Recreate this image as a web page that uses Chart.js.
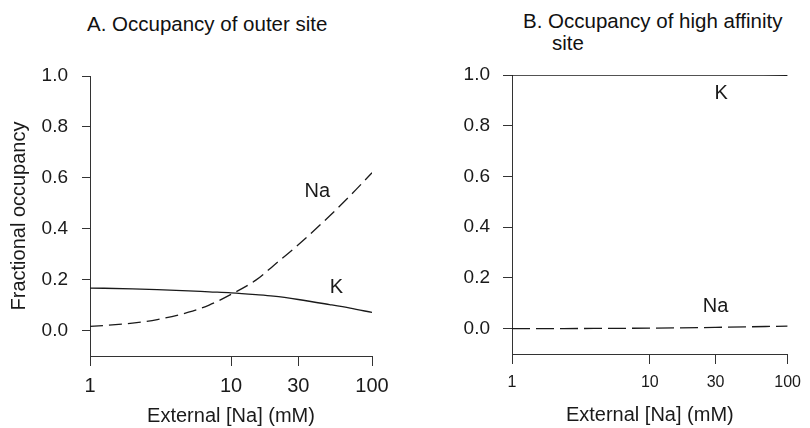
<!DOCTYPE html>
<html>
<head>
<meta charset="utf-8">
<title>Occupancy of outer and high affinity sites</title>
<script src="https://cdn.jsdelivr.net/npm/chart.js@4.4.1/dist/chart.umd.min.js"></script>
<style>
    body {
        margin: 0;
        background: #ffffff;
    }

    #page {
        position: relative;
        width: 810px;
        height: 428px;
        font-family: "Liberation Sans", Arial, sans-serif;
        color: #111111;
    }

    canvas {
        position: absolute;
        top: 0;
    }

    #outer-graph {
        left: 0;
    }

    #high-graph {
        left: 405px;
    }

    .panel-title {
        position: absolute;
        font-size: 20.5px;
        line-height: 22px;
        white-space: nowrap;
    }

    #outer-title {
        left: 87px;
        top: 13px;
    }

    #high-title {
        left: 523px;
        top: 10px;
        padding-left: 29px;
        text-indent: -29px;
    }
</style>
</head>
<body>
<div id="page">
    <div class="panel-title" id="outer-title">A. Occupancy of outer site</div>
    <div class="panel-title" id="high-title">B. Occupancy of high affinity<br>site</div>
    <canvas id="outer-graph" width="405" height="428"></canvas>
    <canvas id="high-graph" width="405" height="428"></canvas>
</div>

<script>
// =========================================================
// DATA
// =========================================================

// panel A - outer site
const outerConcentrations = [1, 2, 3, 5, 7, 10, 15, 20, 30, 50, 70, 100];
const outerNa = [0.016, 0.029, 0.043, 0.072, 0.100, 0.142, 0.198, 0.255, 0.337, 0.45, 0.53, 0.62];
const outerK = [0.167, 0.164, 0.161, 0.156, 0.152, 0.148, 0.141, 0.135, 0.122, 0.102, 0.088, 0.071];

// panel B - high affinity site
const highConcentrations = [1, 3, 10, 30, 100];
const highNa = [0.0, 0.0005, 0.002, 0.005, 0.01];
const highK = [1.0, 1.0, 1.0, 1.0, 0.999];

// axes
const xTickValues = [1, 10, 30, 100];
const yTickValues = [0, 0.2, 0.4, 0.6, 0.8, 1.0];

const xAxisTitle = "External [Na] (mM)";
const yAxisTitle = "Fractional occupancy";

// =========================================================
// STYLE
// =========================================================

const INK = "#1a1a1a";
const AXIS = "#333333";
const FONT = "'Liberation Sans', Arial, sans-serif";

Chart.defaults.font.family = FONT;
Chart.defaults.color = INK;

// --- Plugins --- //

const curveLabelPlugin = {
    id: "curveLabels",
    afterDatasetsDraw(chart, args, options) {
        const context = chart.ctx;
        const xScale = chart.scales.x;
        const yScale = chart.scales.y;

        context.save();
        context.font = options.size + "px " + FONT;
        context.fillStyle = INK;
        context.textAlign = "center";
        context.textBaseline = "middle";

        for (let labelIndex = 0; labelIndex < options.items.length; labelIndex++) {
            const label = options.items[labelIndex];
            context.fillText(label.text, xScale.getPixelForValue(label.x), yScale.getPixelForValue(label.y));
        }

        context.restore();
    }
};

// --- Helpers --- //

function toPoints(xs, ys) {
    return xs.map(function (x, index) {
        return { x: x, y: ys[index] };
    });
}

function createLineDataset(label, xs, ys, dash) {
    return {
        label: label,
        data: toPoints(xs, ys),
        borderColor: INK,
        borderWidth: 1.3,
        borderDash: dash,
        pointRadius: 0,
        cubicInterpolationMode: "monotone",
        fill: false
    };
}

function createOccupancyChart(canvas, settings) {
    return new Chart(canvas, {
        type: "line",
        data: {
            datasets: settings.datasets
        },
        options: {
            responsive: false,
            animation: false,
            events: [],
            layout: {
                padding: {
                    top: settings.top,
                    right: settings.right,
                    left: 0,
                    bottom: 0
                }
            },
            scales: {
                x: {
                    type: "logarithmic",
                    min: 1,
                    max: 100,
                    afterBuildTicks: function (scale) {
                        scale.ticks = xTickValues.map(value => ({ value: value }));
                    },
                    afterFit: function (scale) {
                        scale.height = settings.xHeight;
                    },
                    ticks: {
                        autoSkip: false,
                        maxRotation: 0,
                        padding: settings.xTickPadding,
                        color: INK,
                        font: { size: settings.xTickSize },
                        callback: value => String(value)
                    },
                    grid: {
                        drawOnChartArea: false,
                        drawTicks: true,
                        tickLength: 10,
                        color: AXIS,
                        lineWidth: 1
                    },
                    border: {
                        display: true,
                        color: AXIS,
                        width: 1
                    },
                    title: {
                        display: true,
                        text: xAxisTitle,
                        color: INK,
                        font: { size: 20 },
                        padding: { top: 0, bottom: settings.xTitlePadding }
                    }
                },
                y: {
                    type: "linear",
                    min: -0.1,
                    max: 1.0,
                    afterBuildTicks: function (scale) {
                        scale.ticks = yTickValues.map(value => ({ value: value }));
                    },
                    afterFit: function (scale) {
                        scale.width = settings.yWidth;
                    },
                    ticks: {
                        autoSkip: false,
                        padding: settings.yTickPadding,
                        color: INK,
                        font: { size: 19 },
                        callback: value => value.toFixed(1)
                    },
                    grid: {
                        drawOnChartArea: false,
                        drawTicks: true,
                        tickLength: settings.yTickLength,
                        color: AXIS,
                        lineWidth: 1
                    },
                    border: {
                        display: true,
                        color: AXIS,
                        width: 1
                    },
                    title: {
                        display: settings.showYTitle,
                        text: yAxisTitle,
                        color: INK,
                        font: { size: 20 },
                        padding: { top: 7, bottom: 0 }
                    }
                }
            },
            plugins: {
                legend: { display: false },
                tooltip: { enabled: false },
                curveLabels: {
                    size: 20,
                    items: settings.labels
                }
            }
        },
        plugins: [curveLabelPlugin]
    });
}

// =========================================================
// RENDER
// =========================================================

createOccupancyChart(document.getElementById("outer-graph"), {
    datasets: [
        createLineDataset("Na", outerConcentrations, outerNa, [13, 6]),
        createLineDataset("K", outerConcentrations, outerK, [])
    ],
    labels: [
        { text: "Na", x: 41, y: 0.545 },
        { text: "K", x: 56, y: 0.169 }
    ],
    top: 76,
    right: 33,
    yWidth: 90,
    xHeight: 72,
    yTickLength: 8,
    yTickPadding: 14,
    xTickPadding: 8,
    xTickSize: 20,
    xTitlePadding: 0,
    showYTitle: true
});

createOccupancyChart(document.getElementById("high-graph"), {
    datasets: [
        createLineDataset("Na", highConcentrations, highNa, [18, 6]),
        createLineDataset("K", highConcentrations, highK, [])
    ],
    labels: [
        { text: "K", x: 33, y: 0.929 },
        { text: "Na", x: 30, y: 0.089 }
    ],
    top: 75,
    right: 17,
    yWidth: 107,
    xHeight: 74,
    yTickLength: 9,
    yTickPadding: 13,
    xTickPadding: 9,
    xTickSize: 16,
    xTitlePadding: 1,
    showYTitle: false
});
</script>
</body>
</html>
